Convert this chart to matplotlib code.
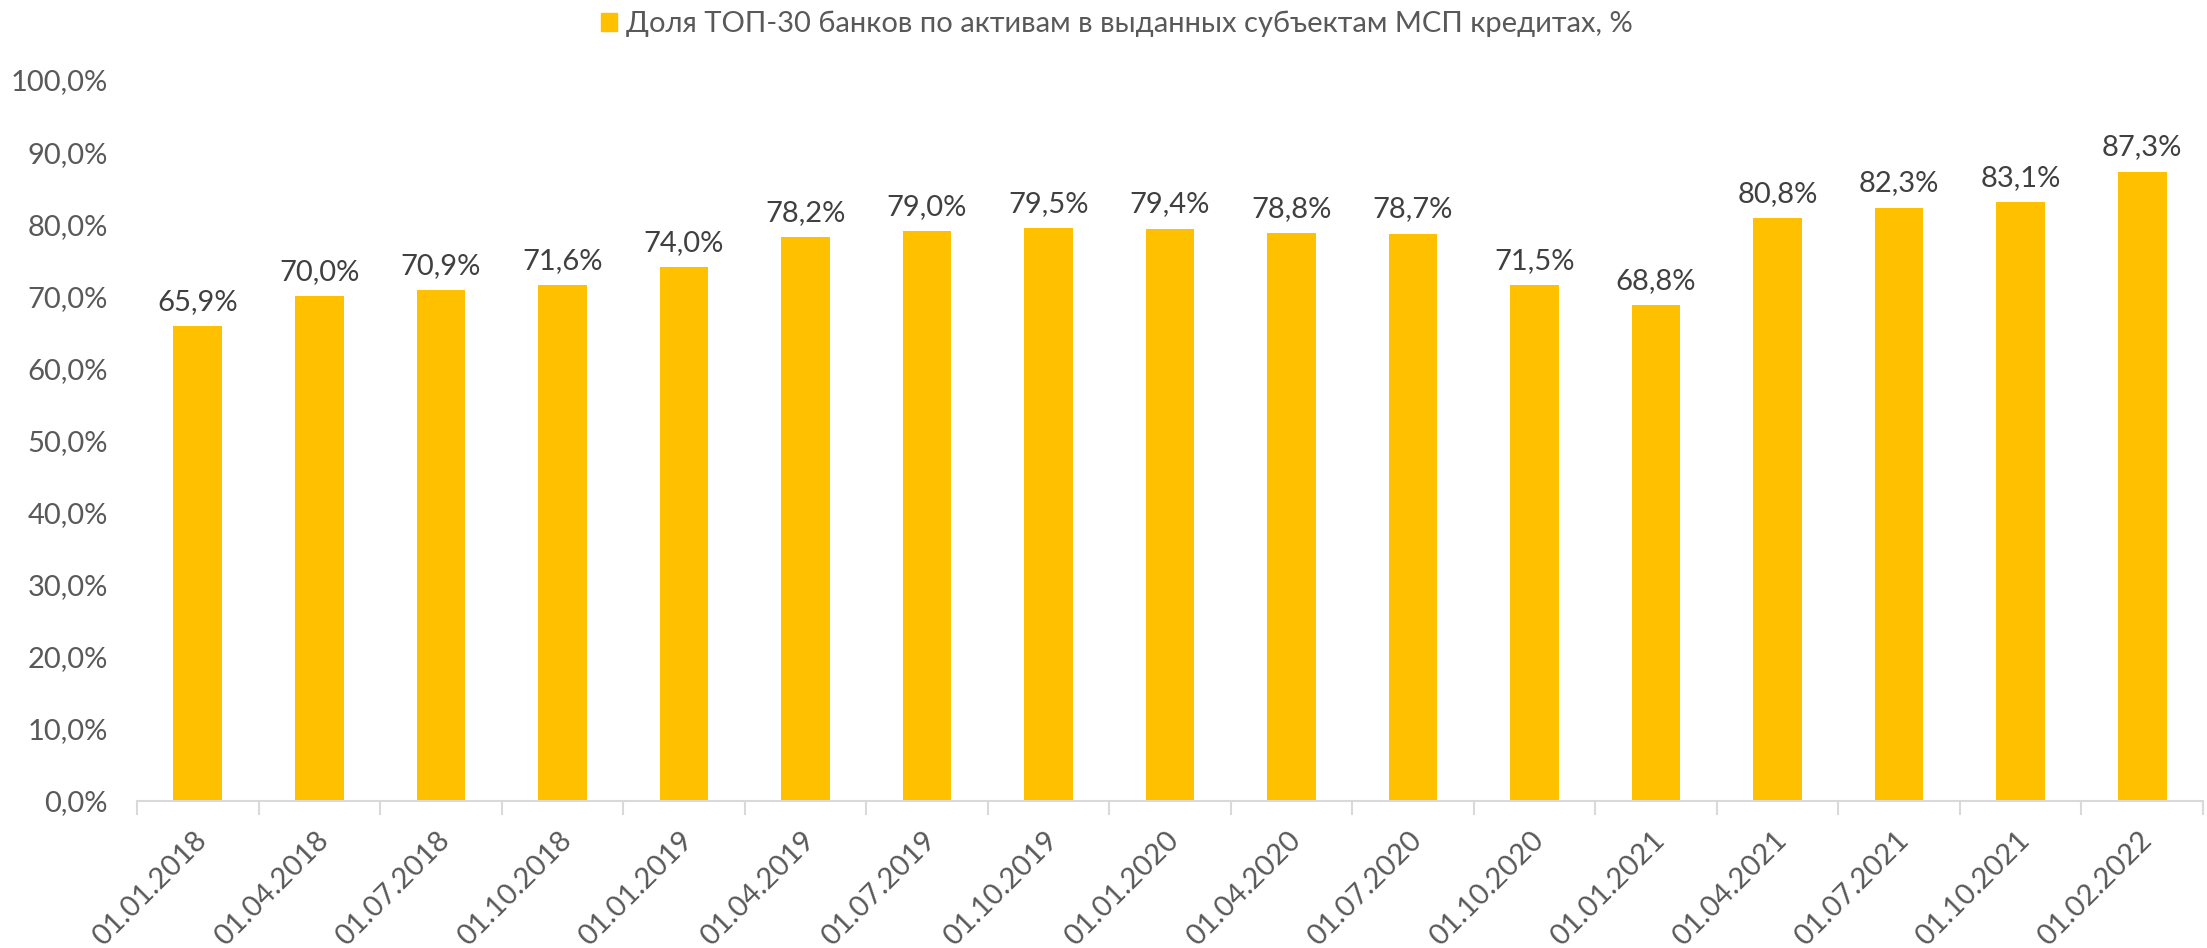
import matplotlib
matplotlib.use("Agg")
import matplotlib.pyplot as plt
from matplotlib.patches import Patch
from matplotlib.transforms import ScaledTranslation
import numpy as np

categories = ["01.01.2018", "01.04.2018", "01.07.2018", "01.10.2018", "01.01.2019",
              "01.04.2019", "01.07.2019", "01.10.2019", "01.01.2020", "01.04.2020",
              "01.07.2020", "01.10.2020", "01.01.2021", "01.04.2021", "01.07.2021",
              "01.10.2021", "01.02.2022"]
values = [65.9, 70.0, 70.9, 71.6, 74.0, 78.2, 79.0, 79.5, 79.4, 78.8, 78.7,
          71.5, 68.8, 80.8, 82.3, 83.1, 87.3]
yticks = [0, 10, 20, 30, 40, 50, 60, 70, 80, 90, 100]
series_name = "Доля ТОП-30 банков по активам в выданных субъектам МСП кредитах, %"

plt.rcParams['font.family'] = ['Lato', 'DejaVu Sans']

BAR = "#FFC000"
TICK = "#595959"
LAB = "#404040"
FS = 21

fig = plt.figure(figsize=(22.07, 9.48), dpi=100)
ax = fig.add_axes([137/2207, 1-801/948, (2203-137)/2207, (801-80)/948])

x = np.arange(len(categories))
bars = ax.bar(x, values, width=0.40, color=BAR)

def fmt(v):
    return f"{v:.1f}".replace(".", ",") + "%"

for xi, v in zip(x, values):
    ax.annotate(fmt(v), (xi, v), xytext=(0, 8), textcoords="offset points",
                ha="center", va="bottom", fontsize=FS, color=LAB)

ax.set_xlim(-0.5, len(categories) - 0.5)
ax.set_ylim(0, 100)
ax.set_yticks(yticks)
ax.set_yticklabels([fmt(t) for t in yticks], fontsize=FS, color=TICK)
ax.tick_params(axis="y", length=0, pad=21)

ax.set_xticks(x)
ax.set_xticklabels(categories, rotation=45, ha="right", rotation_mode="anchor",
                   fontsize=FS, color=TICK)
ax.tick_params(axis="x", which="major", length=0, pad=19)
shift = ScaledTranslation(-3/72, 0, fig.dpi_scale_trans)
for lbl in ax.get_xticklabels():
    lbl.set_transform(lbl.get_transform() + shift)
ax.set_xticks(np.arange(len(categories) + 1) - 0.5, minor=True)
ax.tick_params(axis="x", which="minor", length=10, width=1.5, color="#D9D9D9")

for s in ["top", "right", "left"]:
    ax.spines[s].set_visible(False)
ax.spines["bottom"].set_color("#D9D9D9")
ax.spines["bottom"].set_linewidth(1.5)

fig.legend(handles=[Patch(color=BAR, label=series_name)], loc="center",
           bbox_to_anchor=((430+1157)/2/1568, 1-24/948), frameon=False,
           fontsize=FS, labelcolor=TICK, handlelength=0.55, handleheight=0.55,
           handletextpad=0.3)

fig.savefig("out.png", dpi=100)
